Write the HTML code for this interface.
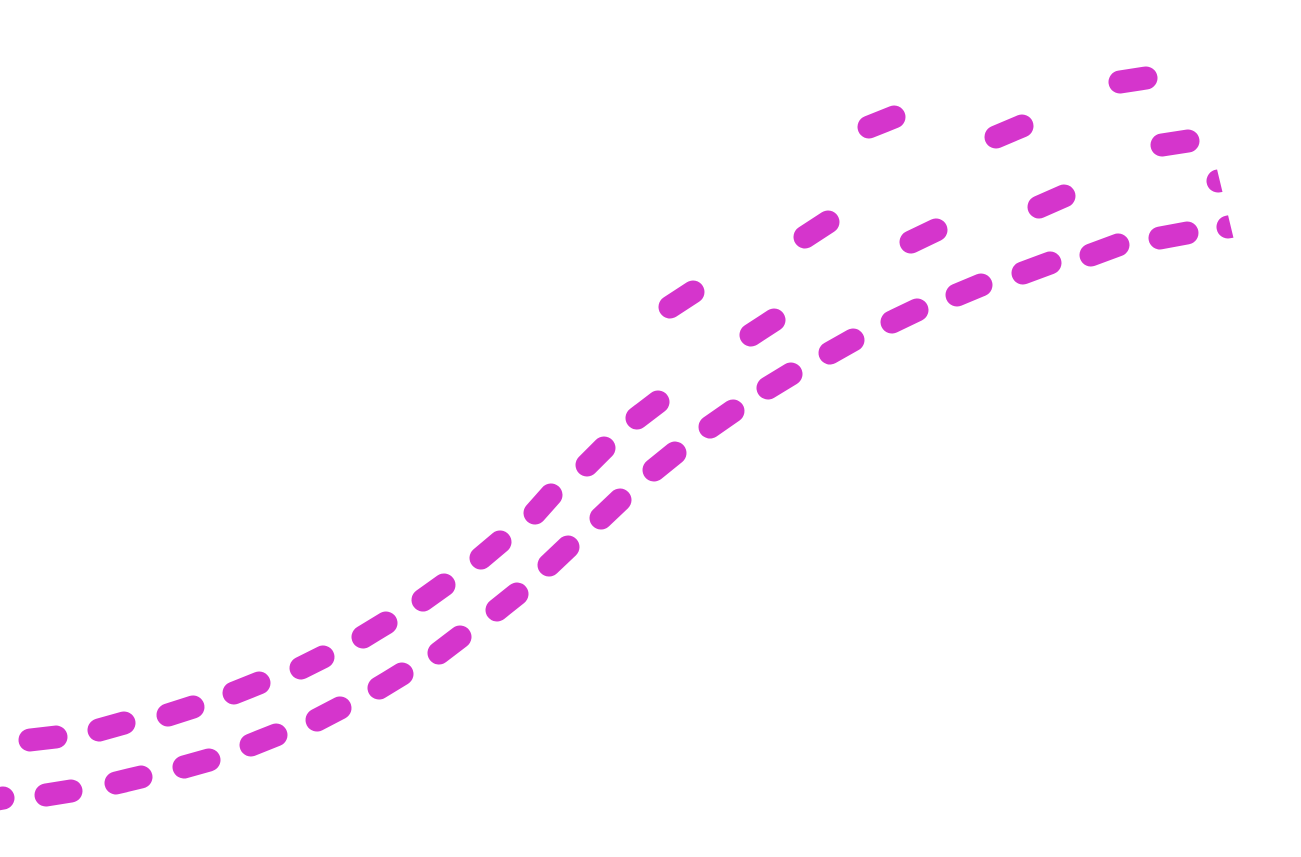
<!DOCTYPE html>
<html><head><meta charset="utf-8"><style>html,body{margin:0;padding:0;background:#fff;width:1301px;height:857px;overflow:hidden}</style></head>
<body>
<svg width="1301" height="857" viewBox="0 0 1301 857" xmlns="http://www.w3.org/2000/svg">
<defs><clipPath id="c"><polygon points="0,0 1213,0 1216,165 1234,240 1240,857 0,857"/></clipPath></defs>
<g stroke="#d535cc" stroke-width="23" stroke-linecap="round" fill="none" clip-path="url(#c)">
<line x1="30" y1="740" x2="56" y2="737"/>
<line x1="99" y1="730" x2="124" y2="723"/>
<line x1="168" y1="715" x2="193" y2="707"/>
<line x1="234" y1="693" x2="259" y2="683"/>
<line x1="301" y1="668" x2="323" y2="657"/>
<line x1="363" y1="637" x2="386" y2="623"/>
<line x1="423" y1="600" x2="444" y2="585"/>
<line x1="481" y1="558" x2="500" y2="542"/>
<line x1="535" y1="513" x2="551" y2="495"/>
<line x1="587" y1="465" x2="604" y2="448"/>
<line x1="637" y1="418" x2="658" y2="402"/>
<line x1="670" y1="307" x2="693" y2="292"/>
<line x1="751" y1="335" x2="774" y2="320"/>
<line x1="805" y1="237" x2="828" y2="222"/>
<line x1="911" y1="242" x2="936" y2="230"/>
<line x1="869" y1="127" x2="894" y2="117"/>
<line x1="996" y1="137" x2="1022" y2="126"/>
<line x1="1039" y1="207" x2="1064" y2="196"/>
<line x1="1120" y1="82" x2="1146" y2="78"/>
<line x1="1162" y1="145" x2="1188" y2="141"/>
<line x1="1218" y1="181" x2="1244" y2="177"/>
<line x1="-20" y1="802" x2="3" y2="798"/>
<line x1="46" y1="795" x2="71" y2="791"/>
<line x1="116" y1="783" x2="141" y2="777"/>
<line x1="184" y1="767" x2="209" y2="760"/>
<line x1="251" y1="745" x2="276" y2="735"/>
<line x1="317" y1="720" x2="340" y2="708"/>
<line x1="379" y1="688" x2="402" y2="674"/>
<line x1="439" y1="653" x2="460" y2="637"/>
<line x1="497" y1="610" x2="517" y2="594"/>
<line x1="549" y1="565" x2="568" y2="547"/>
<line x1="601" y1="518" x2="620" y2="500"/>
<line x1="654" y1="470" x2="675" y2="453"/>
<line x1="710" y1="427" x2="733" y2="411"/>
<line x1="768" y1="388" x2="791" y2="374"/>
<line x1="830" y1="353" x2="853" y2="340"/>
<line x1="892" y1="322" x2="917" y2="310"/>
<line x1="957" y1="295" x2="981" y2="285"/>
<line x1="1023" y1="273" x2="1050" y2="263"/>
<line x1="1091" y1="255" x2="1118" y2="245"/>
<line x1="1160" y1="238" x2="1187" y2="233"/>
<line x1="1228" y1="227" x2="1254" y2="222"/>
</g>
</svg>
</body></html>
